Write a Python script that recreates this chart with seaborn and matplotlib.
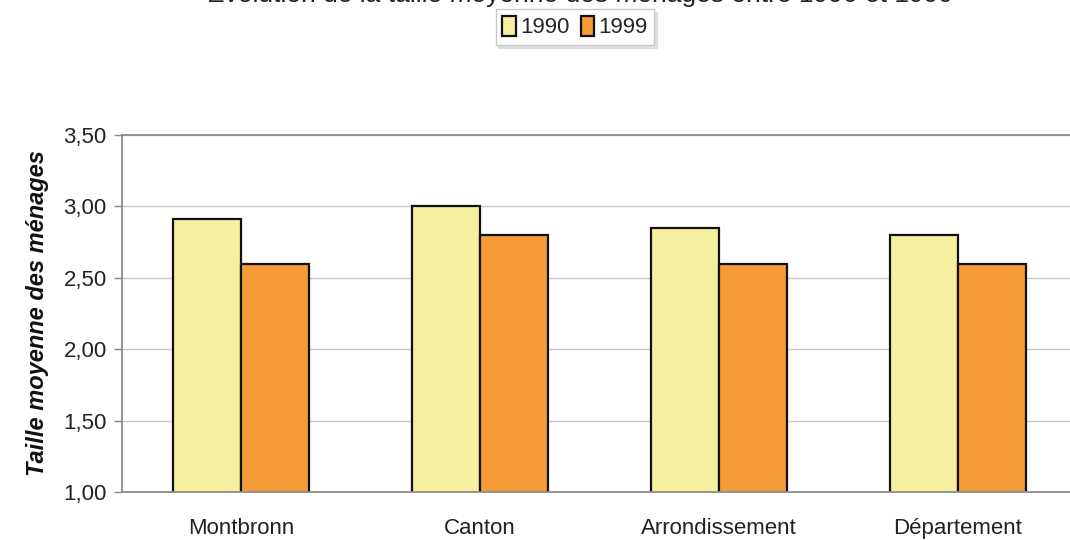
import matplotlib
matplotlib.use("Agg")
import matplotlib.pyplot as plt
import seaborn as sns
import pandas as pd

categories = ["Montbronn", "Canton", "Arrondissement", "Département"]
years = ["1990", "1999"]
values_1990 = [2.91, 3.00, 2.85, 2.80]
values_1999 = [2.60, 2.80, 2.60, 2.60]
y_ticks = [1.00, 1.50, 2.00, 2.50, 3.00, 3.50]
colors = ["#F5F0A0", "#F59B37"]

df = pd.DataFrame({
    "cat": categories * 2,
    "val": values_1990 + values_1999,
    "year": [years[0]] * 4 + [years[1]] * 4,
})

sns.set_theme(style="white")
plt.rcParams["font.family"] = ["Liberation Sans", "DejaVu Sans"]

fig = plt.figure(figsize=(10.7, 5.4), dpi=100)
ax = fig.add_axes([122 / 1070, 1 - 492 / 540, 955 / 1070, 357 / 540])

sns.barplot(data=df, x="cat", y="val", hue="year", palette=colors,
            edgecolor="#111111", linewidth=1.6, width=0.57, gap=0,
            saturation=1, ax=ax, legend=True)

ax.set_ylim(1.0, 3.5)
ax.set_xlim(-0.5, 3.5)
ax.set_yticks(y_ticks)
ax.set_yticklabels([f"{v:.2f}".replace(".", ",") for v in y_ticks], fontsize=16, color="#222222")
ax.set_xticks(range(4))
ax.set_xticklabels(categories, fontsize=16, color="#222222")
ax.set_xticks([-0.5, 0.5, 1.5, 2.5, 3.5], minor=True)
ax.tick_params(axis="x", which="major", length=0, pad=19)
ax.tick_params(axis="x", which="minor", length=6, width=1, color="#888888", direction="out")
ax.tick_params(axis="y", length=6, width=1, color="#888888", direction="out", pad=5, left=True)
ax.set_axisbelow(True)
ax.yaxis.grid(True, color="#C8C8C8", linewidth=1)
ax.set_xlabel("")
ax.set_ylabel("Taille moyenne des ménages", fontsize=17, fontweight="bold",
              fontstyle="italic", color="#111111", labelpad=10)
for s in ["left", "bottom", "top"]:
    ax.spines[s].set_visible(True)
    ax.spines[s].set_color("#8C8C8C")
    ax.spines[s].set_linewidth(1.3)
ax.spines["right"].set_visible(False)

handles, labels = ax.get_legend_handles_labels()
ax.get_legend().remove()
leg = fig.legend(handles, labels, loc="upper center", bbox_to_anchor=(575 / 1070, 1 - 9 / 540),
                 ncol=2, fontsize=16, frameon=True, fancybox=False,
                 shadow={"color": "#C8C8C8", "ox": 2, "oy": -2},
                 edgecolor="#C8C8C8", handlelength=0.6, handleheight=1.0,
                 handletextpad=0.2, columnspacing=0.5, borderpad=0.3,
                 borderaxespad=0)
leg.get_frame().set_linewidth(1)

fig.text(580 / 1070, 1 - 2 / 540,
         "Évolution de la taille moyenne des ménages entre 1990 et 1999",
         ha="center", va="baseline", fontsize=19, color="#222222")

fig.savefig("out.png", dpi=100)
